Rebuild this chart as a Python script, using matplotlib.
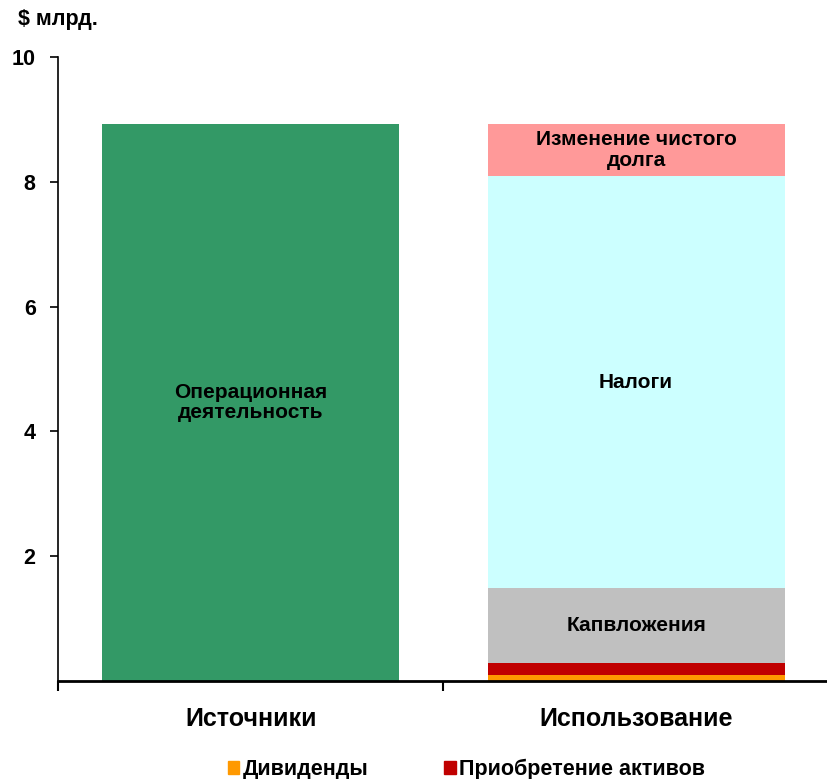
import matplotlib.pyplot as plt
from matplotlib.patches import Patch

plt.rcParams['font.family'] = ['Liberation Sans', 'DejaVu Sans']
plt.rcParams['font.weight'] = 'bold'

# Категории и значения (млрд долл.)
categories = ['Источники', 'Использование']
sources = [8.93, 0]
dividends = [0, 0.10]
acquisitions = [0, 0.19]
capex = [0, 1.20]
taxes = [0, 6.60]
net_debt = [0, 0.84]

colors = {
    'sources': '#339966',
    'dividends': '#FF9900',
    'acquisitions': '#C00000',
    'capex': '#C0C0C0',
    'taxes': '#CCFFFF',
    'net_debt': '#FF9999',
}

fig = plt.figure(figsize=(8.28, 7.79), dpi=100)
ax = fig.add_axes([0.070, 0.1258, 0.931, 0.801])

x = [0, 1]
w = 0.77
ax.bar(x[0], sources[0], width=w, color=colors['sources'])
ax.text(x[0], sources[0] / 2, 'Операционная\nдеятельность', ha='center', va='center',
        fontsize=15, fontweight='bold', linespacing=1.08)

# Стек для "Использование"
segments = [
    (dividends, 'dividends', None),
    (acquisitions, 'acquisitions', None),
    (capex, 'capex', 'Капвложения'),
    (taxes, 'taxes', 'Налоги'),
    (net_debt, 'net_debt', 'Изменение чистого\nдолга'),
]
bottom = 0
for vals, key, label in segments:
    v = vals[1]
    ax.bar(x[1], v, bottom=bottom, width=w, color=colors[key])
    if label:
        ax.text(x[1], bottom + v / 2, label, ha='center', va='center',
                fontsize=15, fontweight='bold', linespacing=1.08)
    bottom += v

ax.set_xlim(-0.5, 1.5)
ax.set_ylim(0, 10)
ax.set_yticks([2, 4, 6, 8, 10])
ax.set_xticks(x)
ax.set_xticklabels(categories, fontsize=18, fontweight='bold')
ax.set_xticks([-0.5, 0.5, 1.5], minor=True)
ax.tick_params(axis='x', which='major', length=0, pad=19)
ax.tick_params(axis='x', which='minor', length=7, width=1.5, direction='out')
ax.tick_params(axis='y', length=6, width=1.2, direction='out', labelsize=15.5, pad=10)
for lbl in ax.get_yticklabels():
    lbl.set_fontweight('bold')

ax.spines['top'].set_visible(False)
ax.spines['right'].set_visible(False)
ax.spines['left'].set_linewidth(1.2)
ax.spines['bottom'].set_linewidth(2)

fig.text(0.022, 0.975, '$ млрд.', fontsize=15.5, fontweight='bold', ha='left', va='center')

handles = [Patch(color=colors['dividends'], label='Дивиденды'),
           Patch(color=colors['acquisitions'], label='Приобретение активов')]
fig.legend(handles=handles, loc='center', bbox_to_anchor=(0.563, 0.012), ncol=2,
           frameon=False, fontsize=15.5, handlelength=0.55, handleheight=0.55,
           handletextpad=0.15, columnspacing=3.5, borderpad=0)

fig.savefig('out.png', dpi=100)
